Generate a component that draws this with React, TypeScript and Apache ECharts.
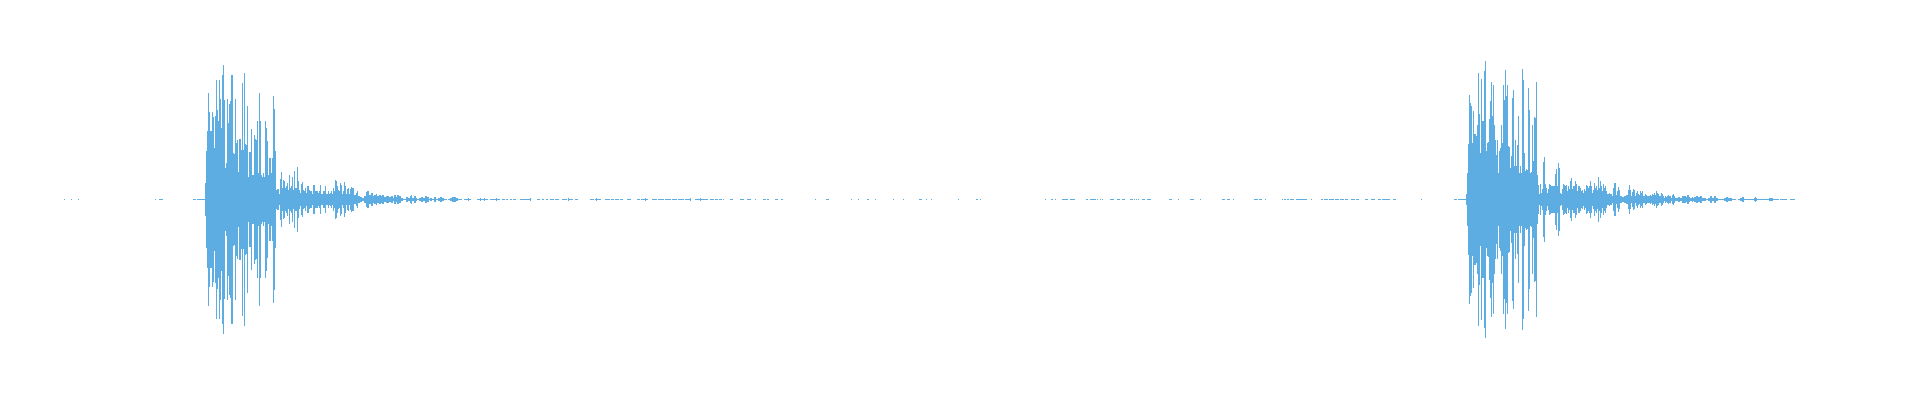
import React, { useEffect, useRef } from "react";
import * as echarts from "echarts";

// Amplitudes: rows above the centre line (null = no sample drawn)
const burst1Start = 205;
const burst1: (number | null)[] = [
  16, 48, 68, 106, 87, 68, 68, 87, 82, 51,
  83, 119, 89, 78, 119, 100, 71, 124, 134, 99,
  31, 36, 100, 76, 95, 98, 124, 124, 46, 45,
  100, 56, 59, 27, 60, 60, 49, 116, 49, 126,
  55, 54, 93, 22, 47, 47, 70, 24, 24, 64,
  60, 59, 78, 26, 106, 78, 24, 22, 26, 22,
  78, 71, 58, 24, 41, 41, 26, 41, 103, 90,
  48, 9, 10, 10, 5, 20, 27, 11, 19, 18,
  11, 13, 16, 9, 24, 11, 13, 22, 9, 28,
  11, 11, 32, 18, 9, 6, 15, 17, 9, 8,
  11, 6, 13, 13, 9, 8, 8, 5, 14, 14,
  8, 8, 8, 6, 8, 14, 5, 5, 8, 8,
  13, 5, 5, 8, 5, 6, 8, 5, 11, 8,
  19, 18, 13, 9, 8, 16, 14, 5, 8, 17,
  13, 5, 10, 11, 5,
];

const tail1Start = 350;
const tail1: (number | null)[] = [
  10, 12, 11, 11, 4, 4, 6, 8, 3, 3,
  2, 2, 1, 1, 3, 3, 7, 8, 8, 4,
  4, 6, 6, 3, 4, 4, 5, 3, 3, 4,
  4, 3, 4, 4, 2, 2, 3, 3, 3, 2,
  2, 3, 3, 1, 4, 4, 2, 4, 4, 3,
  3, 1, 1, 0, 0, 0, 2, 2, 1, 1,
  3, 4, 1, 1, 3, 3, 1, 0, 0, 1,
  1, 2, 2, 1, 1, 3, 3, 2, 2, 0,
  1, 1, 0, 0, 2, 2, 0, 0, 1, 1,
  2, 2, 1, 1, 0, 0, 0, null, 0, 0,
  1, 1, 2, 2, 2, 2, 1, 1, 0, 0,
  0, 0, null, null, 0, 0, 0, 0, 1, 0,
  0,
];

const burst2Start = 1466;
const burst2: (number | null)[] = [
  5, 26, 55, 104, 96, 93, 56, 88, 65, 65,
  63, 74, 126, 85, 46, 120, 78, 78, 128, 138,
  48, 56, 57, 80, 98, 117, 83, 114, 74, 59,
  44, 59, 26, 48, 51, 74, 56, 114, 99, 129,
  103, 114, 53, 52, 31, 43, 101, 109, 33, 59,
  33, 54, 83, 26, 33, 26, 130, 119, 46, 28,
  30, 29, 111, 89, 26, 27, 74, 38, 82, 81,
  117, 24, 14, 5, 15, 6, 10, 37, 42, 15,
  11, 6, 10, 15, 14, 13, 13, 13, 13, 25,
  30, 13, 36, 31, 6, 5, 10, 15, 14, 13,
  14, 8, 13, 10, 18, 21, 10, 13, 13, 18,
  15, 8, 13, 13, 11, 8, 9, 6, 10, 8,
  14, 13, 11, 13, 18, 13, 6, 9, 16, 11,
  13, 9, 22, 11, 18, 13, 8, 15, 11, 13,
  8, 5, 5, 6,
];

const tail2Start = 1610;
const tail2: (number | null)[] = [
  5, 5, 3, 11, 16, 16, 4, 8, 12, 9,
  3, 3, 2, 2, 3, 3, 4, 4, 9, 14,
  9, 3, 7, 10, 9, 3, 6, 8, 5, 4,
  8, 6, 8, 3, 3, 5, 4, 3, 3, 3,
  4, 3, 5, 4, 6, 4, 8, 6, 5, 3,
  3, 6, 5, 3, 1, 3, 2, 3, 4, 3,
  3, 1, 4, 5, 3, 1, 1, 1, 2, 2,
  1, 1, 3, 3, 3, 3, 2, 4, 4, 2,
  1, 1, 2, 1, 2, 2, 3, 3, 2, 2,
  3, 3, 1, 1, 1, 1, 0, 0, 1, 1,
  3, 3, 1, 1, 3, 3, 1, 1, 0, 0,
  0, 0, 0, 0, 1, 1, 2, 2, 1, 1,
  1, 1, 0, 0, 0, 0, null, null, 0, 0,
  1, 1, 2, 2, 0, 0, 0, 0, 0, 0,
  0, 0, 0, 0, 1, 2, 1, 0, 0, 0,
  0, 0, 0, 0, 0, 0, 0, 0, 0, 1,
  1, 1, 1, 0, 0, 0, 0, 0, 0, null,
  0, 0, 0, 0, 0, 0, 0, null, null, null,
  0, 0, 0, 0, 0,
];

// Quiet stretches: [first sample, last sample, rows above centre]
const quietEarly: [number, number, number][] = [
  [64, 64, 0], [71, 71, 0], [78, 78, 0], [155, 155, 0], [159, 162, 0],
  [193, 195, 0], [197, 204, 0],
];

const quietMiddleA: [number, number, number][] = [
  [477, 479, 0], [480, 480, 1], [481, 483, 0], [484, 484, 1], [485, 487, 0],
  [490, 495, 0], [496, 496, 1], [497, 499, 0], [502, 504, 0], [506, 507, 0],
  [510, 511, 0], [513, 515, 0], [520, 529, 0], [530, 530, 1], [537, 539, 0],
  [542, 543, 0], [546, 547, 0], [550, 553, 0], [555, 558, 0], [562, 566, 0],
  [568, 568, 1], [569, 572, 0], [575, 577, 0], [590, 593, 0], [595, 595, 0],
  [596, 596, 1], [597, 600, 0], [605, 609, 0], [611, 613, 0], [615, 618, 0],
  [620, 622, 0], [627, 630, 0], [637, 639, 0], [641, 644, 0], [645, 645, 1],
  [646, 647, 0], [652, 656, 0], [658, 663, 0], [665, 670, 0], [672, 676, 0],
  [678, 683, 0], [685, 689, 0], [690, 690, 1], [695, 699, 0], [700, 700, 1],
  [701, 707, 0], [710, 713, 0], [715, 717, 0], [719, 721, 0], [723, 723, 0],
  [730, 732, 0], [740, 743, 0], [747, 750, 0], [755, 755, 0], [763, 765, 0],
  [767, 768, 0], [775, 777, 0], [781, 782, 0],
];

const quietMiddleB: [number, number, number][] = [
  [815, 815, 0], [826, 828, 0], [851, 851, 0], [858, 858, 0], [867, 868, 0],
  [875, 875, 0], [893, 893, 0], [903, 903, 0], [919, 921, 0], [926, 926, 0],
  [931, 931, 0], [958, 958, 0], [976, 977, 0], [980, 980, 0], [1045, 1045, 0],
  [1051, 1052, 0], [1055, 1055, 0], [1062, 1067, 0], [1070, 1074, 0], [1086, 1087, 0],
  [1090, 1095, 0], [1097, 1097, 0], [1100, 1100, 0], [1102, 1102, 0], [1110, 1113, 0],
  [1117, 1119, 0], [1122, 1124, 0], [1130, 1132, 0], [1134, 1134, 0], [1136, 1136, 0],
  [1138, 1138, 0], [1142, 1144, 0], [1147, 1150, 0], [1169, 1171, 0], [1178, 1178, 0],
  [1190, 1193, 0], [1200, 1200, 0], [1222, 1224, 0], [1227, 1229, 0], [1233, 1233, 0],
  [1254, 1257, 0], [1259, 1261, 0], [1265, 1265, 0], [1282, 1282, 0], [1284, 1285, 0],
  [1287, 1288, 0], [1290, 1293, 0], [1296, 1306, 0], [1311, 1311, 0], [1321, 1322, 0],
  [1324, 1327, 0], [1329, 1333, 0], [1335, 1338, 0], [1340, 1343, 0], [1345, 1347, 0],
  [1351, 1354, 0], [1356, 1358, 0], [1365, 1367, 0], [1371, 1374, 0], [1378, 1380, 0],
  [1382, 1389, 0], [1393, 1395, 0], [1421, 1421, 0], [1454, 1456, 0], [1458, 1465, 0],
];

const X_MIN = 64;
const X_MAX = 1794;
const COLOR = "#5dade2";

function buildSamples(): [number, number][] {
  const pts: [number, number][] = [];
  const addArr = (start: number, arr: (number | null)[]) => {
    arr.forEach((k, i) => {
      if (k !== null && k !== undefined) pts.push([start + i, k]);
    });
  };
  const addRuns = (runs: [number, number, number][]) => {
    runs.forEach(([s, e, k]) => {
      for (let x = s; x <= e; x++) pts.push([x, k]);
    });
  };
  addRuns(quietEarly);
  addArr(burst1Start, burst1);
  addArr(tail1Start, tail1);
  addRuns(quietMiddleA);
  addRuns(quietMiddleB);
  addArr(burst2Start, burst2);
  addArr(tail2Start, tail2);
  pts.sort((a, b) => a[0] - b[0]);
  return pts;
}

export default function App() {
  const ref = useRef<HTMLDivElement>(null);
  useEffect(() => {
    if (!ref.current) return;
    const chart = echarts.init(ref.current, undefined, { renderer: "svg" });
    const samples = buildSamples();
    // half-height of each symmetric bar: rows above centre plus half of the centre row
    const data = samples.map(([x, k]) => [x, k + 0.5]);
    chart.setOption({
      animation: false,
      backgroundColor: "#ffffff",
      grid: { left: 56.5, top: 41.5, width: X_MAX - X_MIN, height: 300, containLabel: false },
      xAxis: {
        type: "value",
        min: X_MIN,
        max: X_MAX,
        show: false,
      },
      yAxis: {
        type: "value",
        min: -150,
        max: 150,
        show: false,
      },
      series: [
        {
          type: "custom",
          data,
          silent: true,
          clip: false,
          renderItem: (_params: any, api: any) => {
            const x = api.value(0);
            const a = api.value(1);
            const top = api.coord([x, a]);
            const bot = api.coord([x, -a]);
            return {
              type: "rect",
              shape: { x: top[0] - 0.5, y: top[1], width: 1, height: bot[1] - top[1] },
              style: { fill: COLOR },
            };
          },
        },
      ],
    });
    return () => chart.dispose();
  }, []);
  return <div ref={ref} style={{ width: "100%", height: 400 }} />;
}
